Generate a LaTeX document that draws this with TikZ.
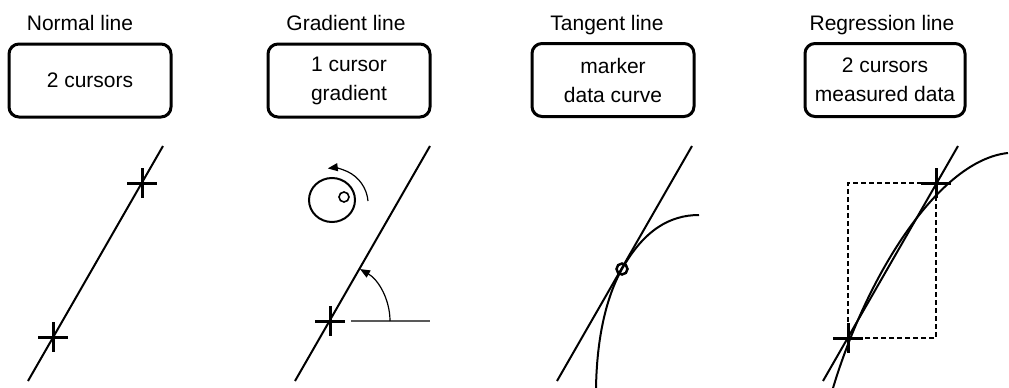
\documentclass[tikz,border=0pt]{standalone}
\usepackage{fontspec}
\setmainfont{Liberation Sans}
\usetikzlibrary{arrows.meta}
\begin{document}
\begin{tikzpicture}[x=1pt,y=-1pt,
  title/.style={font=\fontsize{21}{26}\selectfont, anchor=base},
  box/.style={draw, line width=3pt, rounded corners=10pt, minimum width=162pt, minimum height=73pt, align=center, font=\fontsize{21}{29}\selectfont, inner sep=0pt},
  ln/.style={line width=2pt},
  crs/.style={line width=3pt},
  thinln/.style={line width=1.2pt},
  arr/.style={thinln, -{Triangle[length=10pt,width=8pt]}},
  crossmark/.pic={\draw[crs] (-15,0)--(15,0) (0,-15)--(0,15);}]
\useasboundingbox (0,0) rectangle (1009,388);
% titles
\node[title] (t1) at (80,30) {Normal line};
\node[title] (t2) at (346,30) {Gradient line};
\node[title] (t3) at (607,30) {Tangent line};
\node[title] (t4) at (882,30) {Regression line};
% boxes
\node[box] (b1) at (90,80.5) {2 cursors};
\node[box] (b2) at (349,80.5) {1 cursor\\gradient};
\node[box] (b3) at (613,80) {marker\\data curve};
\node[box, minimum width=160pt] (b4) at (885,80) {2 cursors\\measured data};
% panel 1
\coordinate (p1a) at (28,381);
\coordinate (p1b) at (163,146);
\draw[ln] (p1a) -- (p1b);
\pic at (53,337) {crossmark};
\pic at (142,183) {crossmark};
% panel 2
\coordinate (p2a) at (295,381);
\coordinate (p2b) at (430,146);
\coordinate (p2c) at (330,321);
\coordinate (h1) at (351,321);
\coordinate (h2) at (430,321);
\draw[ln] (p2a) -- (p2b);
\pic at (p2c) {crossmark};
\draw[thinln, gray!70!black] (h1) -- (h2);
\draw[arr] (390,321) arc[start angle=0, end angle=-60, radius=60];
\draw[ln] (332,200) ellipse [x radius=23, y radius=22];
\draw[line width=1.6pt] (344,197) circle [radius=5];
\draw[arr] (368,201) arc[start angle=-5, end angle=-97, radius=36];
% panel 3
\coordinate (p3a) at (557,381);
\coordinate (p3b) at (692,146);
\coordinate (m3) at (622,269);
\draw[ln] (p3a) -- (p3b);
\draw[ln] (596,388) .. controls (597,330) and (609,292) .. (m3) .. controls (644,230) and (670,215) .. (699,215);
\draw[line width=2.5pt] (m3) circle [radius=5.5];
% panel 4
\coordinate (c4a) at (848,338);
\coordinate (c4b) at (936,183);
\draw[line width=2pt, dash pattern=on 5pt off 3pt] (c4a) rectangle (c4b);
\coordinate (p4a) at (823,381);
\coordinate (p4b) at (958,146);
\draw[ln] (p4a) -- (p4b);
\draw[ln] (833,388) .. controls (868,272) and (940,160) .. (1008,153);
\pic at (c4a) {crossmark};
\pic at (c4b) {crossmark};
\end{tikzpicture}
\end{document}
